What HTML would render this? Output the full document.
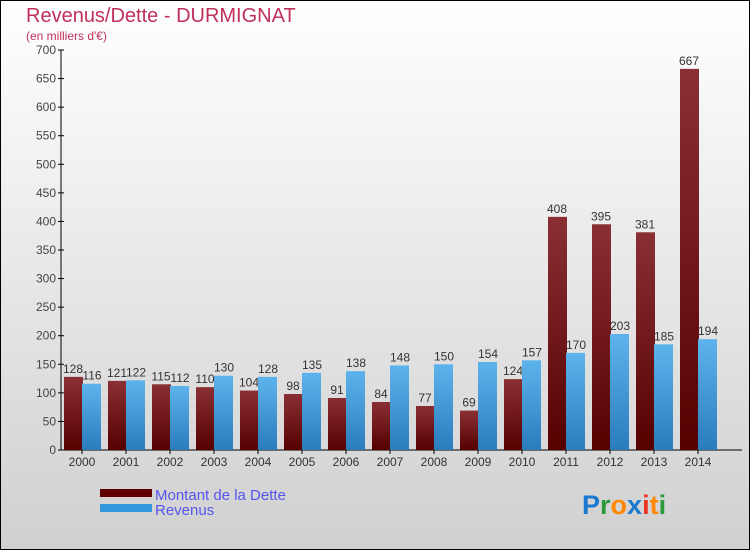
<!DOCTYPE html>
<html><head><meta charset="utf-8"><style>
html,body{margin:0;padding:0}
body{width:750px;height:550px;overflow:hidden;font-family:"Liberation Sans",sans-serif}
</style></head><body>
<svg id="chart" width="750" height="550" xmlns="http://www.w3.org/2000/svg">
<defs>
<linearGradient id="bg" x1="0" y1="0" x2="0" y2="1"><stop offset="0" stop-color="#ffffff"/><stop offset="1" stop-color="#d0d0d0"/></linearGradient>
<linearGradient id="gd" x1="0" y1="0" x2="0" y2="1"><stop offset="0" stop-color="#8a3035"/><stop offset="1" stop-color="#560000"/></linearGradient>
<linearGradient id="gr" x1="0" y1="0" x2="0" y2="1"><stop offset="0" stop-color="#5db4ec"/><stop offset="1" stop-color="#2a7cbc"/></linearGradient>
</defs>
<rect x="0.5" y="0.5" width="749" height="549" fill="url(#bg)" stroke="#000"/>
<text x="26" y="22" font-size="20" fill="#c0305a">Revenus/Dette - DURMIGNAT</text>
<text x="26" y="40" font-size="12" fill="#c0305a">(en milliers d'€)</text>
<g id="axes"></g>
<g id="bars"></g>
<g>
<rect x="100" y="489" width="52" height="8" fill="#600000"/>
<text x="155" y="500" font-size="15" fill="#5555ee">Montant de la Dette</text>
<rect x="100" y="504" width="52" height="8" fill="#3498dc"/>
<text x="155" y="515" font-size="15" fill="#5555ee">Revenus</text>
</g>
<text x="582" y="514" font-size="27" font-weight="bold"><tspan fill="#1a7ad0">P</tspan><tspan fill="#2a9a3a">r</tspan><tspan fill="#ff8800">o</tspan><tspan fill="#1a7ad0">x</tspan><tspan fill="#ee3322">i</tspan><tspan fill="#ff8800">t</tspan><tspan fill="#2a9a3a">i</tspan></text>
</svg>
<script>
const years=["2000","2001","2002","2003","2004","2005","2006","2007","2008","2009","2010","2011","2012","2013","2014"];
const dette=[128,121,115,110,104,98,91,84,77,69,124,408,395,381,667];
const revenus=[116,122,112,130,128,135,138,148,150,154,157,170,203,185,194];
const yTicks=[0,50,100,150,200,250,300,350,400,450,500,550,600,650,700];
const NS="http://www.w3.org/2000/svg";
const y0=450,yTop=50,yMax=700;
function yS(v){return y0-(v/yMax)*(y0-yTop);}
function xC(i){return 82+44*i;}
function mk(t,a,p){const e=document.createElementNS(NS,t);for(const k in a)e.setAttribute(k,a[k]);p.appendChild(e);return e;}
const ax=document.getElementById('axes'),bg=document.getElementById('bars');
mk('line',{x1:61,y1:yTop,x2:61,y2:y0,stroke:'#000'},ax);
mk('line',{x1:61,y1:y0,x2:742,y2:y0,stroke:'#000'},ax);
yTicks.forEach(v=>{
 const y=yS(v);
 const l=mk('line',{x1:58,y1:y,x2:64,y2:y,stroke:'#000'},ax);
 
 
 const t=mk('text',{x:56,y:y+4,'font-size':12,'text-anchor':'end',fill:'#444'},ax);
 t.textContent=v;
 
 
});
years.forEach((yr,i)=>{
 const c=xC(i);
 const tk=mk('line',{x1:c,y1:y0,x2:c,y2:y0+4,stroke:'#000'},ax);
 
 
 const t=mk('text',{x:c,y:466,'font-size':12,'text-anchor':'middle',fill:'#333'},ax);
 t.textContent=yr;
 
 
 const yd=yS(dette[i]);
 const b1=mk('rect',{x:c-18,y:yd,width:19,height:y0-yd,fill:'url(#gd)'},bg);
 
 
 const l1=mk('text',{x:c-9,y:yd-4,'font-size':12,'text-anchor':'middle',fill:'#333'},bg);
 l1.textContent=dette[i];
 
 
 const yr2=yS(revenus[i]);
 const b2=mk('rect',{x:c,y:yr2,width:19,height:y0-yr2,fill:'url(#gr)'},bg);
 
 
 const l2=mk('text',{x:c+10,y:yr2-4,'font-size':12,'text-anchor':'middle',fill:'#333'},bg);
 l2.textContent=revenus[i];
 
 
});
</script>
</body></html>
